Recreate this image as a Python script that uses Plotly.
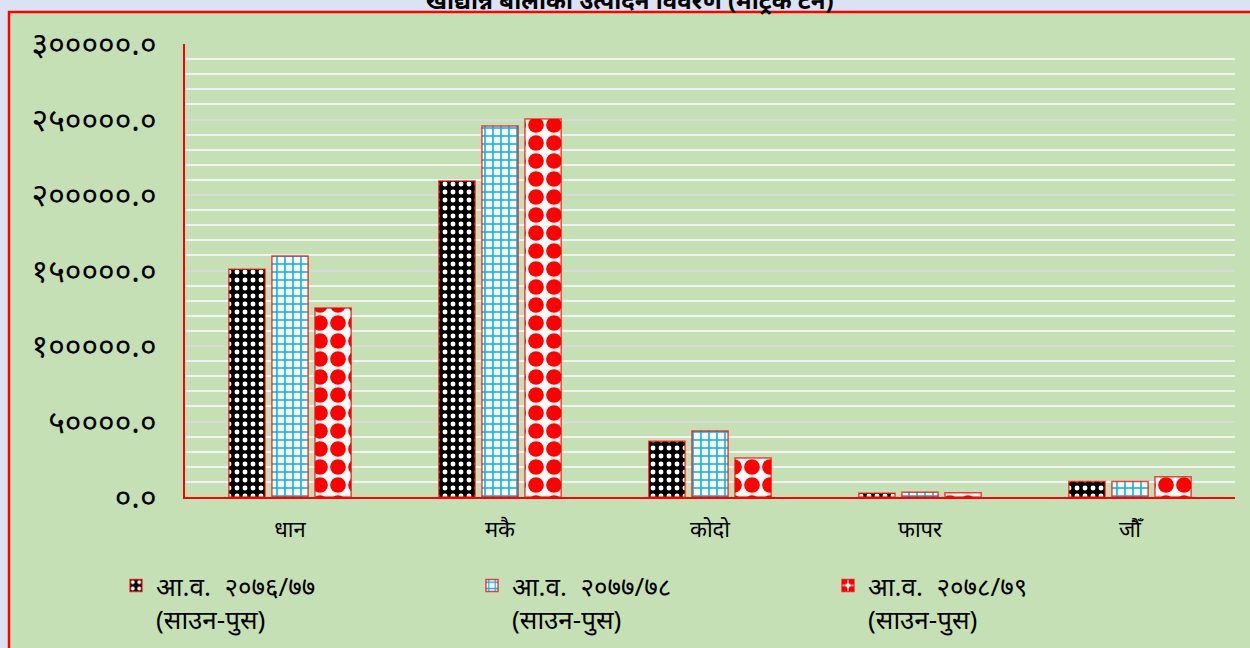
import plotly.graph_objects as go

categories = ["धान", "मकै", "कोदो", "फापर", "जौँ"]
series_names = ["आ.व.  २०७६/७७<br>(साउन-पुस)",
                "आ.व.  २०७७/७८<br>(साउन-पुस)",
                "आ.व.  २०७८/७९<br>(साउन-पुस)"]
v_7677 = [150800, 209300, 37000, 2500, 10300]
v_7778 = [159600, 245700, 43700, 3100, 10200]
v_7879 = [125200, 250300, 25800, 2800, 13400]
tick_vals = [0, 50000, 100000, 150000, 200000, 250000, 300000]
tick_text = ["०.०", "५००००.०", "१०००००.०", "१५००००.०", "२०००००.०", "२५००००.०", "३०००००.०"]
title_text = "खाद्यान्न बालीको उत्पादन विवरण (मेट्रिक टन)"

FONT = "Noto Sans, Lato, sans-serif"

styles = [
    dict(shape=".", bgcolor="black", fgcolor="white", size=8, solidity=0.3),
    dict(shape="+", bgcolor="white", fgcolor="#00B0F0", size=8, solidity=0.35),
    dict(shape=".", bgcolor="white", fgcolor="#FF0000", size=18, solidity=0.6),
]

fig = go.Figure()
for name, vals, st in zip(series_names, [v_7677, v_7778, v_7879], styles):
    fig.add_trace(go.Bar(
        x=categories, y=vals, name=name,
        marker=dict(color=st["bgcolor"],
                    line=dict(color="rgba(255,0,0,0.75)", width=1.5),
                    pattern=dict(fillmode="replace", **st)),
    ))

T, B, L, R = 44, 151, 185, 15
ph = 648 - T - B
pw = 1250 - L - R

def py(pix):
    return (648 - B - pix) / ph

def px(pix):
    return (pix - L) / pw

fig.add_shape(type="rect", xref="paper", yref="paper",
              x0=px(9), x1=px(1260), y0=py(700), y1=py(12),
              fillcolor="#C5E0B4", line=dict(color="#FF0000", width=2.5),
              layer="below")

fig.add_annotation(text="<b>" + title_text + "</b>", xref="paper", yref="paper",
                   x=px(630), y=py(18), xanchor="center", yanchor="bottom",
                   showarrow=False, font=dict(size=24, color="black", family=FONT))

fig.update_layout(
    width=1250, height=648,
    margin=dict(l=L, r=R, t=T, b=B, autoexpand=False),
    paper_bgcolor="#DAE3F3",
    plot_bgcolor="rgba(0,0,0,0)",
    font=dict(family=FONT, color="black", size=22),
    barmode="group", bargap=0.385, bargroupgap=0.16,
    showlegend=True,
    legend=dict(orientation="h", x=px(116), y=py(562),
                xanchor="left", yanchor="top",
                entrywidth=311, entrywidthmode="pixels", valign="top",
                font=dict(size=26, family=FONT), bgcolor="rgba(0,0,0,0)",
                traceorder="normal"),
    xaxis=dict(showline=True, linecolor="#FF0000", linewidth=2,
               ticks="", ticklabelstandoff=12, tickfont=dict(size=22)),
    yaxis=dict(range=[0, 300000], tickvals=tick_vals, ticktext=tick_text,
               showline=True, linecolor="#FF0000", linewidth=2,
               showgrid=True, gridcolor="#D9D9D9", gridwidth=2,
               zeroline=False, ticks="", ticklabelstandoff=20,
               tickfont=dict(size=32),
               minor=dict(dtick=10000, showgrid=True, gridcolor="#F2F2F2", gridwidth=2)),
)

fig.write_html("out.html", config={"displayModeBar": False},
               post_script="document.body.style.margin='0';document.body.style.background='#DAE3F3';")
